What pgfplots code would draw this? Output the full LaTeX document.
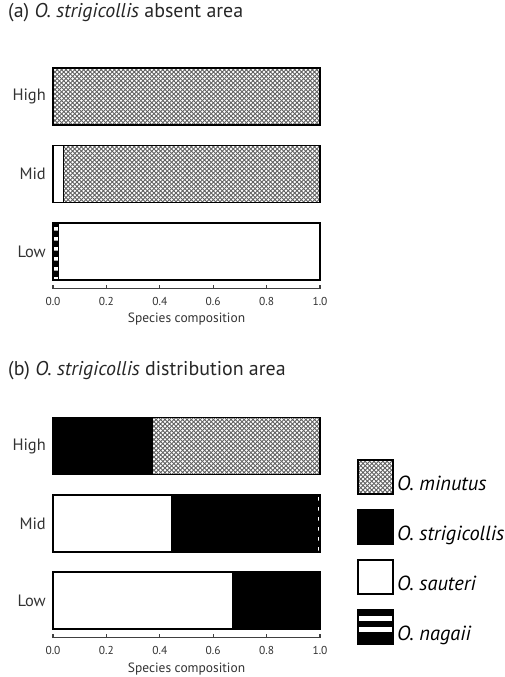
\documentclass[border=0pt]{standalone}
\usepackage{fontspec}
\setmainfont{PT Sans}
\usepackage{pgfplots}
\pgfplotsset{compat=1.18}
\usetikzlibrary{patterns}
\pgfdeclarepatternformonly{dcross}{\pgfpoint{-1bp}{-1bp}}{\pgfpoint{5.5bp}{5.5bp}}{\pgfpoint{4.4bp}{4.4bp}}{%
  \pgfsetlinewidth{0.9bp}%
  \pgfpathmoveto{\pgfpoint{0bp}{0bp}}\pgfpathlineto{\pgfpoint{4.4bp}{4.4bp}}%
  \pgfpathmoveto{\pgfpoint{0bp}{4.4bp}}\pgfpathlineto{\pgfpoint{4.4bp}{0bp}}%
  \pgfusepath{stroke}}
\pgfdeclarepatternformonly{hstripes}{\pgfpointorigin}{\pgfpoint{10bp}{10bp}}{\pgfpoint{10bp}{10bp}}{%
  \pgfpathrectangle{\pgfpointorigin}{\pgfpoint{10bp}{7bp}}\pgfusepath{fill}}
\pgfplotsset{
  cstyle/.style={
    xbar stacked, scale only axis, anchor=south west,
    width=267bp, height=230.4bp,
    xmin=0, xmax=1, ymin=-0.48, ymax=2.5,
    bar width=57bp,
    axis x line*=bottom, axis y line*=left,
    x axis line style={-, line width=1.2bp, black!75},
    y axis line style={draw=none},
    ytick={0,1,2}, yticklabels={Low,Mid,High},
    ytick style={draw=none},
    xtick={0,0.2,0.4,0.6,0.8,1},
    xtick style={line width=1.2bp, black!75},
    tick align=inside, major tick length=4bp,
    /pgf/number format/fixed, /pgf/number format/fixed zerofill,
    /pgf/number format/precision=1,
    /pgf/number format/assume math mode=true,
    xticklabel style={font=\fontsize{11.5}{13}\selectfont, text=black!80, anchor=center, yshift=-13bp},
    yticklabel style={font=\fontsize{16.5}{18}\selectfont, text=black!80, anchor=east, inner sep=0pt, xshift=-7bp},
    xlabel={Species composition},
    xlabel style={font=\fontsize{13.5}{15}\selectfont, text=black!80, at={(axis description cs:0.5,0)}, anchor=center, yshift=-31bp},
    clip=false,
  },
  bborder/.style={draw=black, line width=1.6bp},
  minutus/.style={bborder, pattern=dcross, pattern color=black!62},
  strig/.style={bborder, fill=black},
  sauteri/.style={bborder, fill=white},
  nagaii/.style={bborder, pattern=hstripes, pattern color=black},
}
\begin{document}
\begin{tikzpicture}
\path[use as bounding box] (0,0) rectangle (505bp,-677bp);
\node[anchor=west, font=\fontsize{20}{22}\selectfont, text=black!85, inner sep=0pt] at (8bp,-13bp) {(a) \textit{O. strigicollis} absent area};
\node[anchor=west, font=\fontsize{20}{22}\selectfont, text=black!85, inner sep=0pt] at (8bp,-371bp) {(b) \textit{O. strigicollis} distribution area};

\begin{axis}[cstyle, at={(53bp,-288.5bp)}]
\addplot[nagaii] coordinates {(0.02,0) (0,1) (0,2)};
\addplot[sauteri] coordinates {(0.98,0) (0.04,1) (0,2)};
\addplot[minutus] coordinates {(0,0) (0.96,1) (1,2)};
\end{axis}

\begin{axis}[cstyle, at={(53bp,-637.7bp)},
  legend style={at={(axis description cs:1.1386,0.776)}, anchor=north west,
    draw=none, fill=none, inner sep=0pt, outer sep=0pt, row sep=14bp,
    font=\fontsize{20.5}{22}\selectfont\itshape,
    nodes={inner sep=0pt, outer sep=0pt}, column sep=3bp},
  legend cell align=left]
\addplot[sauteri, forget plot] coordinates {(0.675,0) (0.444,1) (0,2)};
\addplot[strig, forget plot] coordinates {(0.325,0) (0.544,1) (0.373,2)};
\addplot[nagaii, forget plot] coordinates {(0,0) (0.012,1) (0,2)};
\addplot[minutus, forget plot] coordinates {(0,0) (0,1) (0.627,2)};
\addlegendimage{legend image code/.code={\draw[line width=2bp, pattern=dcross, pattern color=black!62] (0bp,-10bp) rectangle (35bp,24bp);}}
\addlegendentry{O. minutus}
\addlegendimage{legend image code/.code={\draw[line width=2bp, fill=black] (0bp,-10bp) rectangle (35bp,24bp);}}
\addlegendentry{O. strigicollis}
\addlegendimage{legend image code/.code={\draw[line width=2bp, fill=white] (0bp,-10bp) rectangle (35bp,24bp);}}
\addlegendentry{O. sauteri}
\addlegendimage{legend image code/.code={\fill[black] (0bp,-10bp) rectangle (35bp,24bp);
  \fill[white] (1bp,13.7bp) rectangle (34bp,17.7bp);
  \fill[white] (1bp,2.3bp) rectangle (34bp,6.3bp);
  \draw[line width=2bp] (0bp,-10bp) rectangle (35bp,24bp);}}
\addlegendentry{O. nagaii}
\end{axis}
\end{tikzpicture}
\end{document}
